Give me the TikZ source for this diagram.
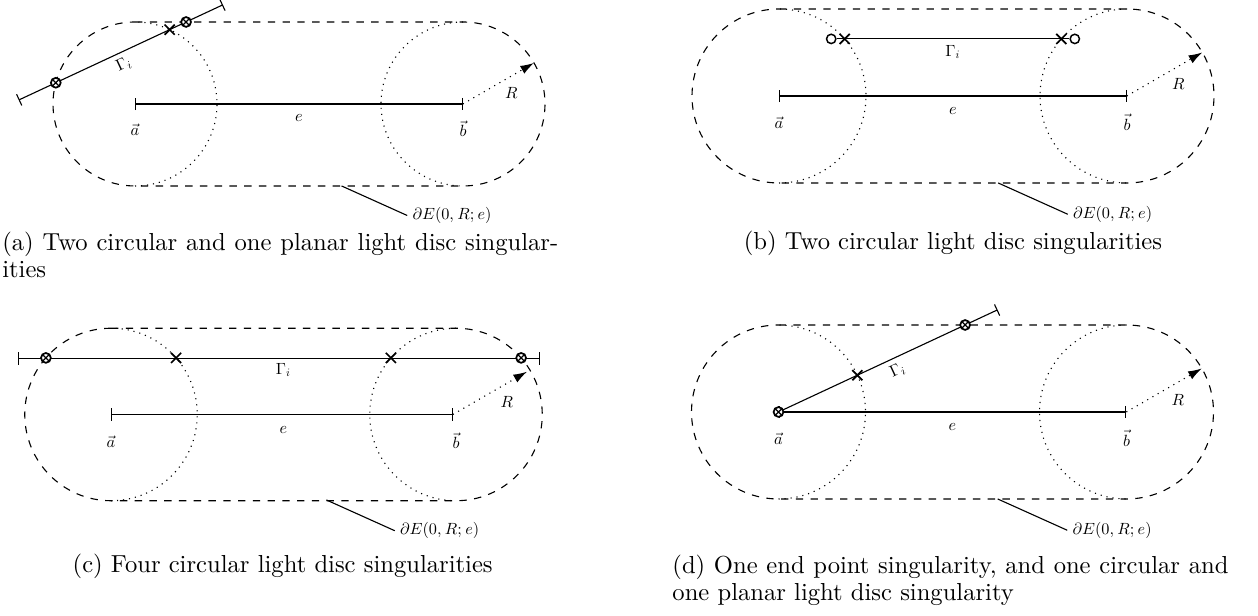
\documentclass[tikz,border=0pt]{standalone}
\usetikzlibrary{positioning,calc,arrows.meta,shapes.misc}
% scalable math fonts (10pt designs at every size)
\DeclareFontFamily{OML}{cmm}{\skewchar\font'177}
\DeclareFontShape{OML}{cmm}{m}{it}{<->cmmi10}{}
\DeclareFontFamily{OT1}{cmr}{\hyphenchar\font45}
\DeclareFontShape{OT1}{cmr}{m}{n}{<->cmr10}{}
\newcommand\lblsize{\fontsize{6.6}{7.9}\selectfont}
\tikzset{
  bnd/.style  = {line width=0.45pt, dashed},
  aux/.style  = {line width=0.45pt, dotted},
  wire/.style = {line width=0.45pt},
  seg/.style  = {line width=0.45pt, {Bar[width=5pt]}-{Bar[width=5pt]}},
  xmk/.style  = {cross out, draw, line width=0.7pt, minimum size=3.4pt, inner sep=0pt},
  omk/.style  = {circle, draw, fill=white, line width=0.6pt, minimum size=3.8pt,
                 inner sep=0pt},
  otmk/.style = {circle, draw, fill=white, line width=0.7pt, minimum size=4pt,
                 inner sep=0pt,
                 path picture={\draw[line width=0.5pt]
                   (path picture bounding box.south west)--(path picture bounding box.north east)
                   (path picture bounding box.north west)--(path picture bounding box.south east);}},
  lbl/.style  = {font=\lblsize, inner sep=2pt},
  captxt/.style = {font=\fontsize{10}{11}\selectfont, inner sep=0pt},
}

\begin{document}
\begin{tikzpicture}[x=0.4065pt, y=0.4065pt]
  \useasboundingbox (0,0) rectangle (1258,616);
  % the tube E(0,R;e) round the segment e, same in all four panels
  \foreach \p/\ox/\oy/\r in {a/135/512/82, b/779/520/87, c/111/201.5/86.25, d/778.5/204/87}{
    \begin{scope}[shift={(\ox,\oy)}, scale=\r]
      \coordinate (\p-a) at (0,0);
      \coordinate (\p-b) at (4,0);
      \draw[bnd] (0,1) -- (4,1) arc[start angle=90, end angle=-90, radius=1]
        -- (0,-1) arc[start angle=270, end angle=90, radius=1];
      \draw[aux] (0,-1) arc[start angle=-90, end angle=90, radius=1];
      \draw[aux] (4,1) arc[start angle=90, end angle=270, radius=1];
      \draw[seg] (\p-a) -- (\p-b);
      \node[lbl] (\p-va) at (0,-0.31) {$\vec{a}$};
      \node[lbl] (\p-e)  at (2,-0.175) {$e$};
      \node[lbl] (\p-vb) at (4,-0.3) {$\vec{b}$};
      \coordinate (\p-r) at (4.866,0.5);
      \draw[aux, -{Latex[length=5.5pt, width=3.6pt]}] (\p-b) -- (\p-r);
      \node[lbl] (\p-R) at (4.59,0.14) {$R$};
      \coordinate (\p-s) at (2.52,-1);
      \coordinate (\p-t) at (3.32,-1.36);
      \draw[wire] (\p-s) -- (\p-t);
      \node[lbl, anchor=west] (\p-dE) at (\p-t) {$\partial E(0,R;e)$};
    \end{scope}
  }
  % (a) line through the tube wall
  \begin{scope}[shift={(135,512)}, scale=82]
    \coordinate (ga1) at (-1.419,0.048);
    \coordinate (ga2) at (1.073,1.210);
    \draw[seg] (ga1) -- (ga2) node[lbl, pos=0.49, below, sloped] (gla) {$\Gamma_i$};
    \node[otmk] (pa1) at (165:1) {};
    \node[xmk]  (xa1) at (65:1) {};
    \node[otmk] (pa2) at (0.623,1) {};
  \end{scope}
  % (b) open segment inside the tube
  \begin{scope}[shift={(779,520)}, scale=87]
    \node[omk] (ob1) at (0.6,0.656) {};
    \node[omk] (ob2) at (3.4,0.656) {};
    \draw[wire] (ob1) -- (ob2);
    \node[xmk] (xb1) at (41:1) {};
    \node[xmk] (xb2) at (3.245,0.656) {};
    \node[lbl] (glb) at (2,0.509) {$\Gamma_i$};
  \end{scope}
  % (c) long segment parallel to e
  \begin{scope}[shift={(111,201.5)}, scale=86.25]
    \coordinate (gc1) at (-1.09,0.656);
    \coordinate (gc2) at (5.02,0.656);
    \draw[seg] (gc1) -- (gc2);
    \node[otmk] (pc1) at (139:1) {};
    \node[xmk]  (xc1) at (41:1) {};
    \node[xmk]  (xc2) at (3.245,0.656) {};
    \node[otmk] (pc2) at (4.755,0.656) {};
    \node[lbl] (glc) at (2,0.516) {$\Gamma_i$};
  \end{scope}
  % (d) segment starting at the end point a
  \begin{scope}[shift={(778.5,204)}, scale=87]
    \coordinate (gd) at (25:2.78);
    \draw[wire, -{Bar[width=5pt]}] (d-a) -- (gd)
      node[lbl, pos=0.52, below, sloped] (gld) {$\Gamma_i$};
    \node[otmk] (pd1) at (d-a) {};
    \node[xmk]  (xd1) at (25:1) {};
    \node[otmk] (pd2) at (2.145,1) {};
  \end{scope}
  % captions
  \node[captxt, anchor=north west, text width=226pt, align=justify] (capa) at (1.8,384.3)
    {(a) Two circular and one planar light disc singular-\linebreak ities};
  \node[captxt] (capb) at (953,372.7) {(b) Two circular light disc singularities};
  \node[captxt] (capc) at (282.7,49.3) {(c) Four circular light disc singularities};
  \node[captxt, anchor=north west, text width=226pt, align=justify] (capd) at (672,61.6)
    {(d) One end point singularity, and one circular and\linebreak one planar light disc singularity};
\end{tikzpicture}
\end{document}
